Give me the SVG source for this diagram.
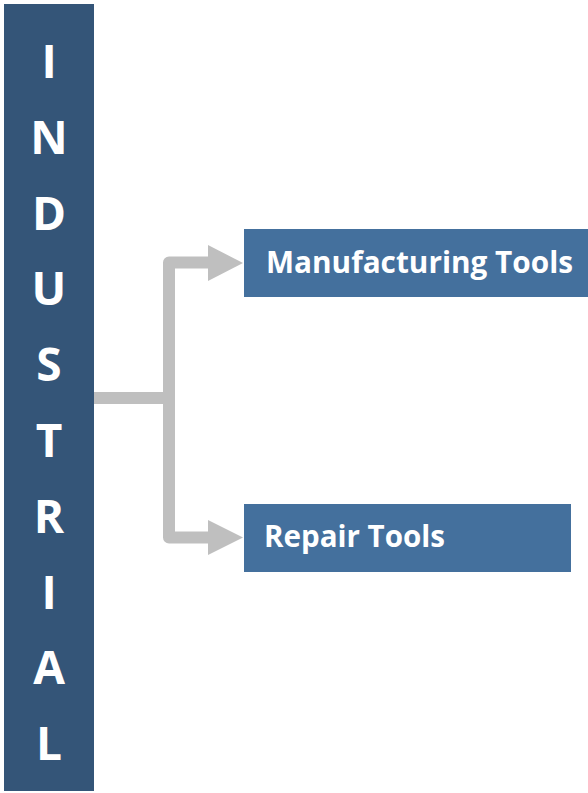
<svg xmlns="http://www.w3.org/2000/svg" width="588" height="793" viewBox="0 0 588 793">
<style>
.v{font-family:"Open Sans","Liberation Sans",sans-serif;font-weight:bold;font-size:46px;fill:#fff;text-anchor:middle}
.t{font-family:"Open Sans","Liberation Sans",sans-serif;font-weight:bold;font-size:31px;fill:#fff}
.c{fill:none;stroke:#BFBFBF;stroke-width:12;stroke-linejoin:round}
</style>
<rect width="588" height="793" fill="#fff"/>
<g id="industrial">
<rect x="4" y="4" width="90" height="787" fill="#345578"/>
<text class="v" x="49" y="78">I</text>
<text class="v" x="49" y="154">N</text>
<text class="v" x="49" y="230">D</text>
<text class="v" x="49" y="305">U</text>
<text class="v" x="49" y="381">S</text>
<text class="v" x="49" y="457">T</text>
<text class="v" x="49" y="533">R</text>
<text class="v" x="49" y="609">I</text>
<text class="v" x="49" y="684">A</text>
<text class="v" x="49" y="760">L</text>
</g>
<g id="connectors">
<path class="c" d="M94 398 H169"/>
<path class="c" d="M210 262.5 H169 V537.5 H210"/>
<polygon points="208,245 243,263 208,281" fill="#BFBFBF"/>
<polygon points="208,520 243,537.5 208,555" fill="#BFBFBF"/>
</g>
<g id="manufacturing">
<rect x="244" y="229" width="344" height="68" fill="#44709D"/>
<text class="t" x="266" y="273" textLength="307" lengthAdjust="spacingAndGlyphs">Manufacturing Tools</text>
</g>
<g id="repair">
<rect x="244" y="504" width="327" height="68" fill="#44709D"/>
<text class="t" x="264" y="547" textLength="181" lengthAdjust="spacingAndGlyphs">Repair Tools</text>
</g>
</svg>
